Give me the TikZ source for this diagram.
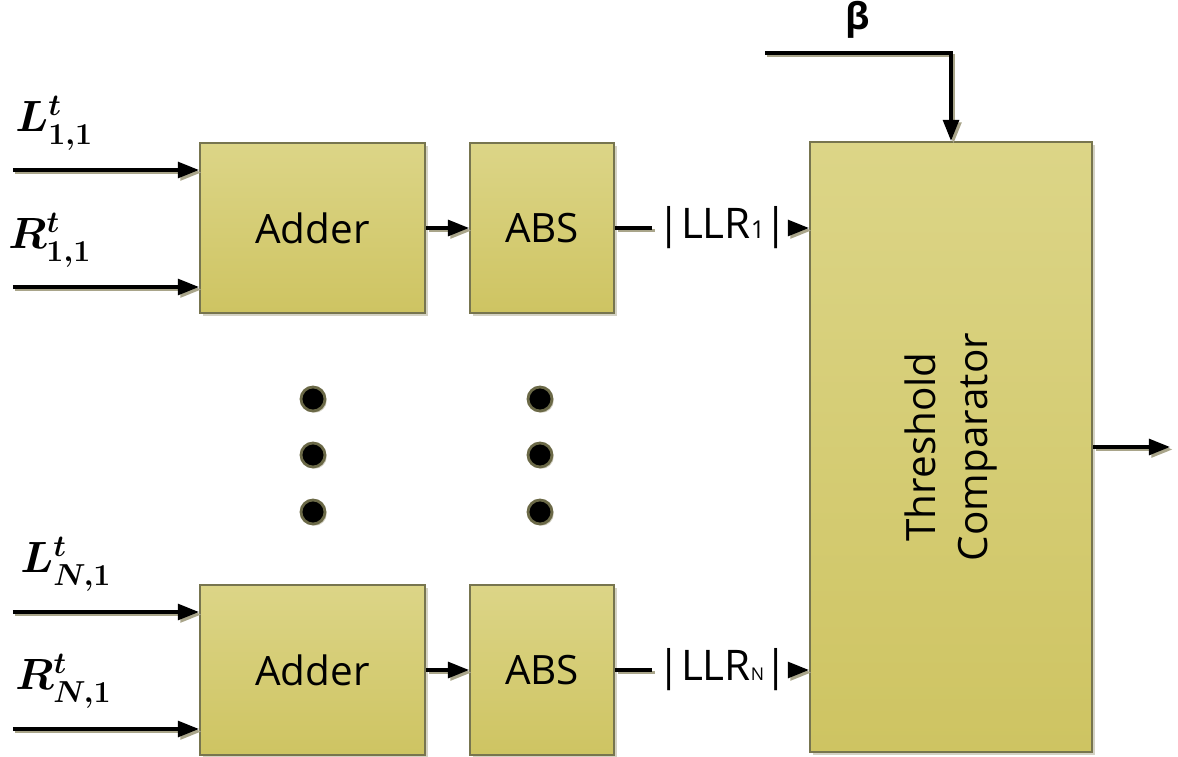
\documentclass[tikz,border=0pt]{standalone}
\usepackage{amsmath}
\usepackage{fontspec}
\setmainfont{Open Sans}
\usetikzlibrary{arrows.meta,shapes,shadows,positioning}
\definecolor{boxtop}{HTML}{DCD587}
\definecolor{boxbot}{HTML}{CEC462}
\definecolor{boxline}{HTML}{77754F}
\definecolor{shadowgray}{HTML}{A9A58A}
\tikzstyle{wire} = [line width=1.9pt, black, -{Triangle[length=12pt,width=9pt]},%
	preaction = {draw, shadowgray, line width=1.9pt, transform canvas={shift={(1.4pt,-1.4pt)}}}]
\tikzstyle{stub} = [line width=1.9pt, black,%
	preaction = {draw, shadowgray, line width=1.9pt, transform canvas={shift={(1.4pt,-1.4pt)}}}]

\begin{document}
\begin{tikzpicture}[node distance=0.86cm,font=\fontsize{23}{30}\selectfont]
    \tikzstyle{block}=[rectangle,draw=boxline,line width=1.2pt,top color=boxtop,bottom color=boxbot,
      minimum height=3.4cm,drop shadow={shadow xshift=1.5pt,shadow yshift=-1.5pt,fill=shadowgray}]
    \tikzstyle{dot}=[circle,draw=boxline!90!black,line width=1.6pt,fill=black,minimum size=0.48cm,inner sep=0pt,
      drop shadow={shadow xshift=1pt,shadow yshift=-1pt,fill=shadowgray}]
    \tikzstyle{insig}=[inner sep=0pt,font=\fontsize{25}{28}\selectfont]
    \tikzstyle{llr}=[inner xsep=3pt,inner ysep=3pt,font=\fontsize{24}{28}\selectfont]
    \useasboundingbox (0,0) rectangle (23.56,15.12);

    % upper branch
    \node[block,minimum width=4.5cm] (add1) at (6.25,10.56) {Adder};
    \node[block,minimum width=2.88cm,right=of add1] (abs1) {ABS};
    % lower branch
    \node[block,minimum width=4.5cm] (addN) at (6.25,1.72) {Adder};
    \node[block,minimum width=2.88cm,right=of addN] (absN) {ABS};
    % comparator
    \node[block,minimum width=5.64cm,minimum height=12.2cm] (comp) at (19.02,6.18)
      {\rotatebox{90}{\begin{tabular}{c}Threshold\\Comparator\end{tabular}}};

    % inputs
    \coordinate (l1in) at (0.26,11.72);
    \coordinate (r1in) at (0.26,9.38);
    \coordinate (lNin) at (0.26,2.88);
    \coordinate (rNin) at (0.26,0.54);
    \draw[wire] (l1in) -- (l1in -| add1.west);
    \draw[wire] (r1in) -- (r1in -| add1.west);
    \draw[wire] (lNin) -- (lNin -| addN.west);
    \draw[wire] (rNin) -- (rNin -| addN.west);
    \node[insig,anchor=south west] (l1lab) at (0.3,12.1) {$\boldsymbol{L^{t}_{1,1}}$};
    \node[insig,anchor=south west] (r1lab) at (0.16,9.76) {$\boldsymbol{R^{t}_{1,1}}$};
    \node[insig,anchor=south west] (lNlab) at (0.4,3.28) {$\boldsymbol{L^{t}_{N,1}}$};
    \node[insig,anchor=south west] (rNlab) at (0.3,0.94) {$\boldsymbol{R^{t}_{N,1}}$};

    % adder to abs to comparator
    \draw[wire] (add1) -- (abs1);
    \draw[wire] (addN) -- (absN);
    \node[llr,right=0.74cm of abs1] (llr1) {|LLR{\fontsize{14}{14}\selectfont 1}|};
    \node[llr,right=0.74cm of absN] (llrN) {|LLR{\fontsize{10}{10}\selectfont N}|};
    \draw[stub] (abs1) -- (llr1);
    \draw[stub] (absN) -- (llrN);
    \draw[wire] (llr1) -- (llr1 -| comp.west);
    \draw[wire] (llrN) -- (llrN -| comp.west);

    % threshold input and output
    \coordinate (bin) at (15.3,14.06);
    \draw[wire] (bin) -| node[pos=0.25,above=4pt,font=\fontsize{21}{24}\selectfont\bfseries] (beta) {β} (comp.north);
    \coordinate (out) at (23.4,6.18);
    \draw[wire] (comp.east) -- (out);

    % dots between the branches
    \foreach \y/\n in {7.14/a,6.02/b,4.88/c} {
      \node[dot] (dadd\n) at (6.26,\y) {};
      \node[dot] (dabs\n) at (10.8,\y) {};
    }
\end{tikzpicture}
\end{document}
